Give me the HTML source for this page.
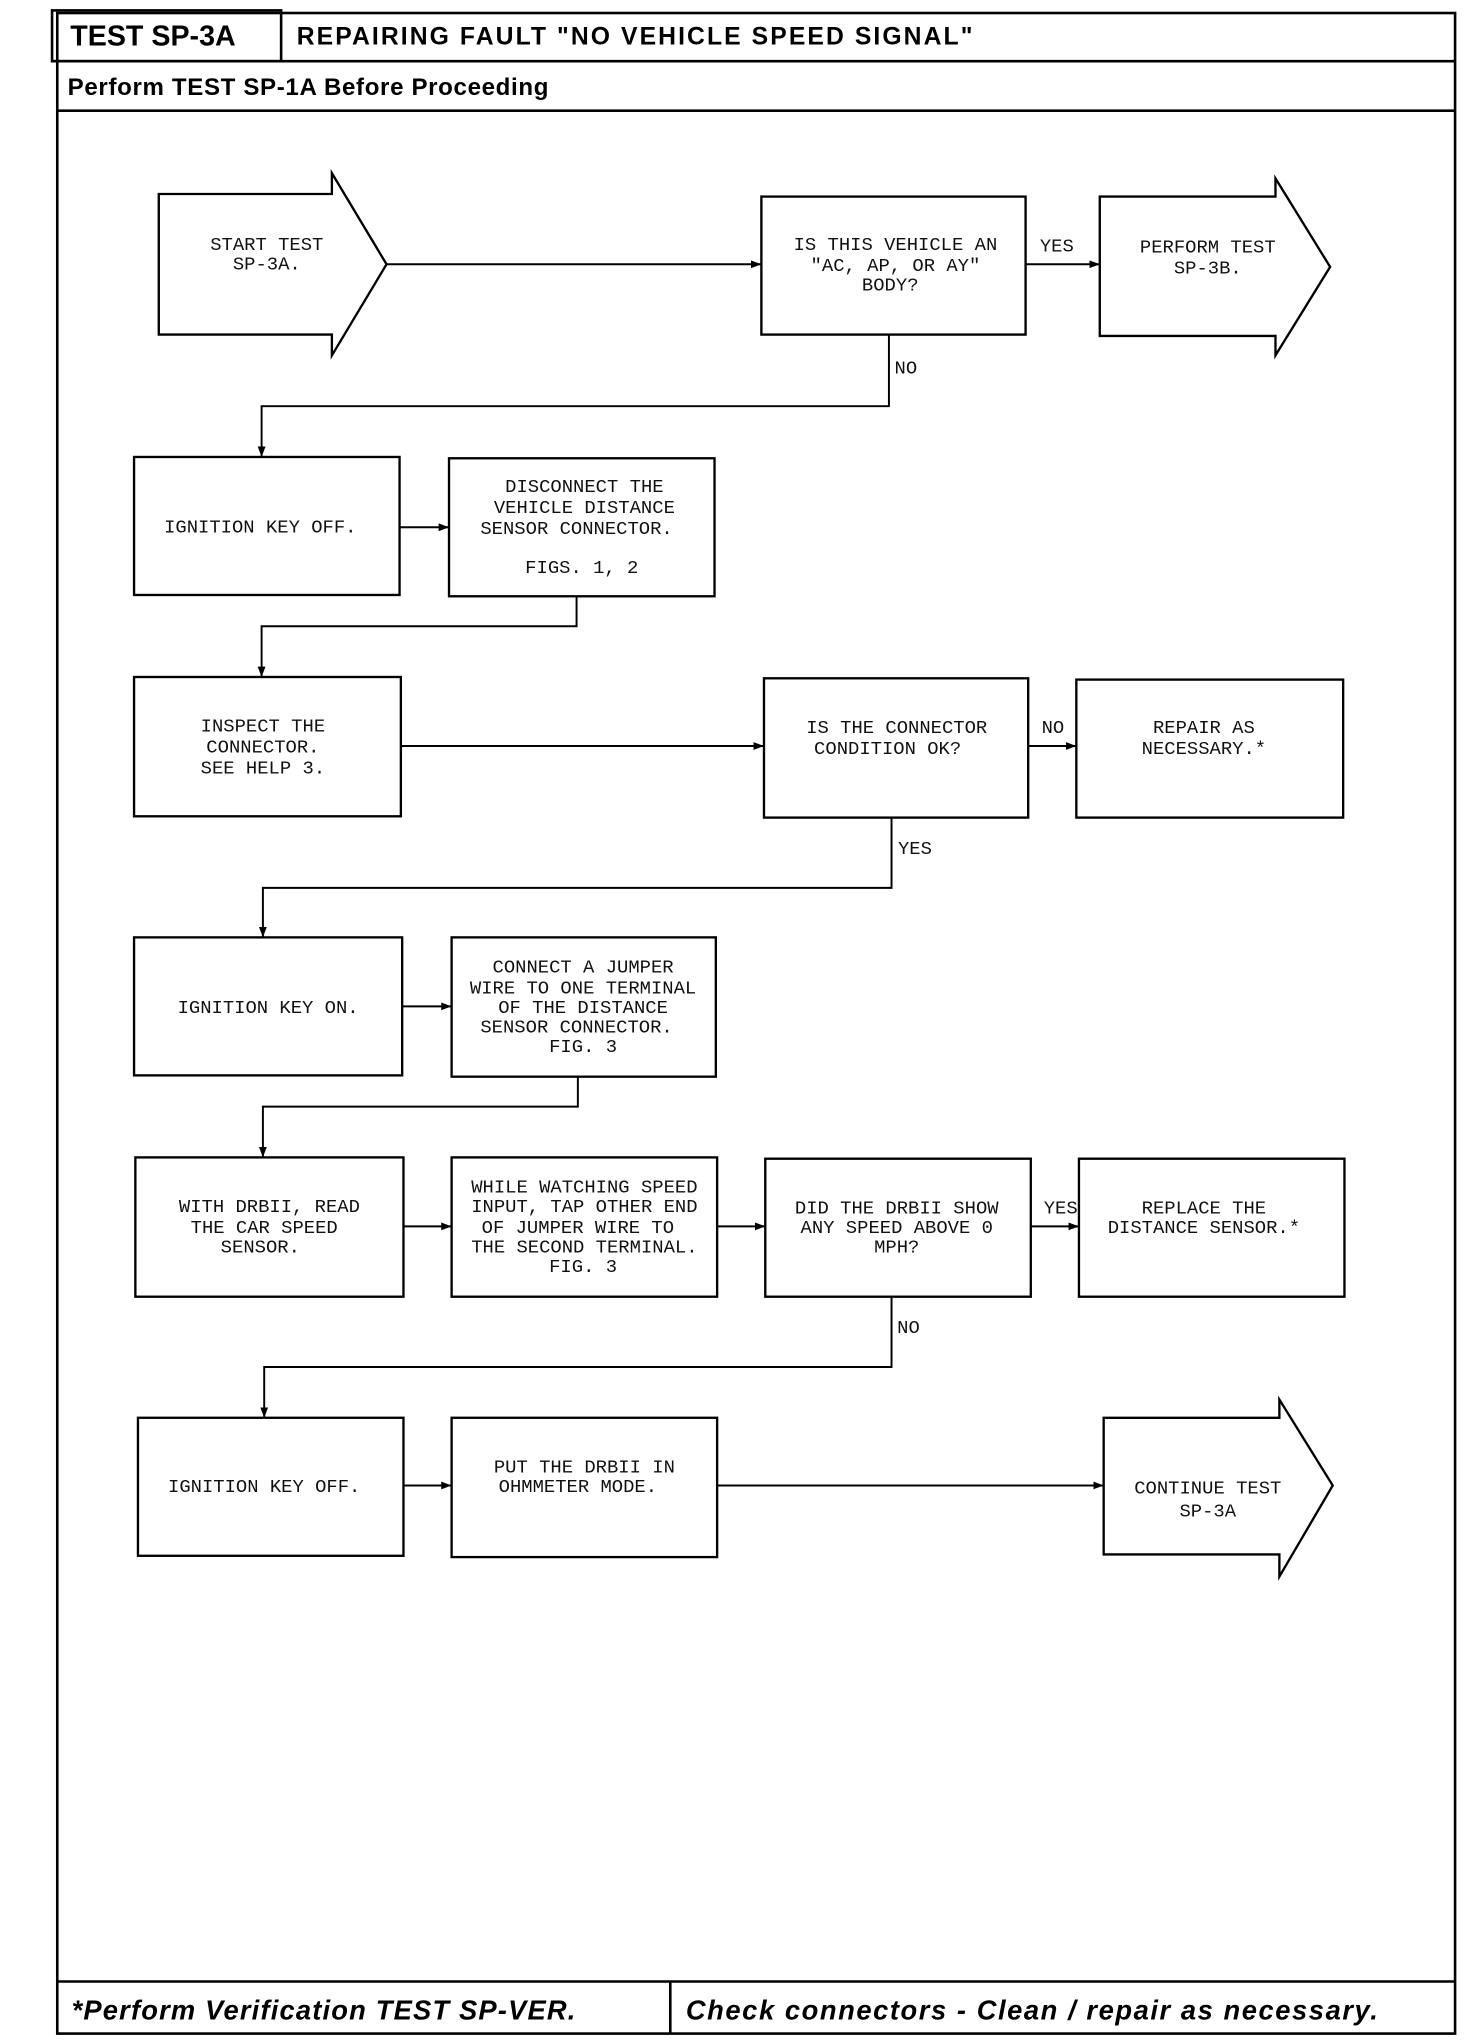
<!DOCTYPE html>
<html><head><meta charset="utf-8"><style>
html,body{margin:0;padding:0;background:#fff;}
svg{display:block;}
.t{font-family:"Liberation Mono",monospace;font-size:14.5px;fill:#111;text-anchor:middle;}
.h{font-family:"Liberation Sans",sans-serif;font-weight:bold;fill:#000;}
</style></head><body>
<svg width="1472" height="2044" viewBox="0 0 1131 1570" preserveAspectRatio="none" xmlns="http://www.w3.org/2000/svg">
<defs><marker id="a" markerWidth="8" markerHeight="6" refX="8" refY="3" orient="auto" markerUnits="userSpaceOnUse"><path d="M0,0 L8,3 L0,6 z" fill="#000"/></marker></defs>
<g fill="none" stroke="#000" stroke-width="2">
<rect x="44" y="10" width="1074" height="1552"/>
<rect x="40" y="8" width="176" height="39"/>
<line x1="40" y1="47" x2="1118" y2="47"/>
<line x1="44" y1="85" x2="1118" y2="85"/>
<line x1="44" y1="1522" x2="1118" y2="1522"/>
<line x1="515" y1="1522" x2="515" y2="1562"/>
</g>
<text class="h" x="54" y="35" font-size="22">TEST SP-3A</text>
<text class="h" x="228" y="34" font-size="19" letter-spacing="1.6">REPAIRING FAULT "NO VEHICLE SPEED SIGNAL"</text>
<text class="h" x="52" y="73" font-size="18.5" letter-spacing="0.5">Perform TEST SP-1A Before Proceeding</text>
<text class="h" x="55" y="1551" font-size="21" font-style="italic" letter-spacing="0.9">*Perform Verification TEST SP-VER.</text>
<text class="h" x="527" y="1551" font-size="21" font-style="italic" letter-spacing="1.2">Check connectors - Clean / repair as necessary.</text>

<g fill="none" stroke="#000" stroke-width="1.8">
<polygon points="122,149 255,149 255,133 297,203 255,273 255,257 122,257"/>
<rect x="585" y="151" width="203" height="106"/>
<polygon points="845,151 980,151 980,137 1022,205 980,273 980,258 845,258"/>
<rect x="103" y="351" width="204" height="106"/>
<rect x="345" y="352" width="204" height="106"/>
<rect x="103" y="520" width="205" height="107"/>
<rect x="587" y="521" width="203" height="107"/>
<rect x="827" y="522" width="205" height="106"/>
<rect x="103" y="720" width="206" height="106"/>
<rect x="347" y="720" width="203" height="107"/>
<rect x="104" y="889" width="206" height="107"/>
<rect x="347" y="889" width="204" height="107"/>
<rect x="588" y="890" width="204" height="106"/>
<rect x="829" y="890" width="204" height="106"/>
<rect x="106" y="1089" width="204" height="106"/>
<rect x="347" y="1089" width="204" height="107"/>
<polygon points="848,1089 983,1089 983,1075 1024,1141 983,1211 983,1194 848,1194"/>
</g>
<g fill="none" stroke="#000" stroke-width="1.5" marker-end="url(#a)">
<line x1="297" y1="203" x2="585" y2="203"/>
<line x1="788" y1="203" x2="845" y2="203"/>
<polyline points="683,257 683,312 201,312 201,351"/>
<line x1="307" y1="405" x2="345" y2="405"/>
<polyline points="443,458 443,481 201,481 201,520"/>
<line x1="308" y1="573" x2="587" y2="573"/>
<line x1="790" y1="573" x2="827" y2="573"/>
<polyline points="685,628 685,682 202,682 202,720"/>
<line x1="309" y1="773" x2="347" y2="773"/>
<polyline points="444,827 444,850 202,850 202,889"/>
<line x1="310" y1="942" x2="347" y2="942"/>
<line x1="551" y1="942" x2="588" y2="942"/>
<line x1="792" y1="942" x2="829" y2="942"/>
<polyline points="685,996 685,1050 203,1050 203,1089"/>
<line x1="310" y1="1141" x2="347" y2="1141"/>
<line x1="551" y1="1141" x2="848" y2="1141"/>
</g>
<g class="t">
<text x="205" y="192">START TEST</text><text x="205" y="207">SP-3A.</text>
<text x="688" y="192">IS THIS VEHICLE AN</text><text x="688" y="208">"AC, AP, OR AY"</text><text x="684" y="223">BODY?</text>
<text x="812" y="193">YES</text>
<text x="928" y="194">PERFORM TEST</text><text x="928" y="210">SP-3B.</text>
<text x="696" y="287">NO</text>
<text x="200" y="409">IGNITION KEY OFF.</text>
<text x="449" y="378">DISCONNECT THE</text><text x="449" y="394">VEHICLE DISTANCE</text><text x="443" y="410">SENSOR CONNECTOR.</text><text x="447" y="440">FIGS. 1, 2</text>
<text x="202" y="562">INSPECT THE</text><text x="202" y="578">CONNECTOR.</text><text x="202" y="594">SEE HELP 3.</text>
<text x="689" y="563">IS THE CONNECTOR</text><text x="682" y="579">CONDITION OK?</text>
<text x="809" y="563">NO</text>
<text x="925" y="563">REPAIR AS</text><text x="925" y="579">NECESSARY.*</text>
<text x="703" y="656">YES</text>
<text x="206" y="778">IGNITION KEY ON.</text>
<text x="448" y="747">CONNECT A JUMPER</text><text x="448" y="763">WIRE TO ONE TERMINAL</text><text x="448" y="778">OF THE DISTANCE</text><text x="443" y="793">SENSOR CONNECTOR.</text><text x="448" y="808">FIG. 3</text>
<text x="207" y="931">WITH DRBII, READ</text><text x="203" y="947">THE CAR SPEED</text><text x="200" y="962">SENSOR.</text>
<text x="449" y="916">WHILE WATCHING SPEED</text><text x="449" y="931">INPUT, TAP OTHER END</text><text x="444" y="947">OF JUMPER WIRE TO</text><text x="449" y="962">THE SECOND TERMINAL.</text><text x="448" y="977">FIG. 3</text>
<text x="689" y="932">DID THE DRBII SHOW</text><text x="689" y="947">ANY SPEED ABOVE 0</text><text x="689" y="962">MPH?</text>
<text x="815" y="932">YES</text>
<text x="925" y="932">REPLACE THE</text><text x="925" y="947">DISTANCE SENSOR.*</text>
<text x="698" y="1024">NO</text>
<text x="203" y="1146">IGNITION KEY OFF.</text>
<text x="449" y="1131">PUT THE DRBII IN</text><text x="444" y="1146">OHMMETER MODE.</text>
<text x="928" y="1147">CONTINUE TEST</text><text x="928" y="1165">SP-3A</text>
</g>
</svg>
</body></html>
